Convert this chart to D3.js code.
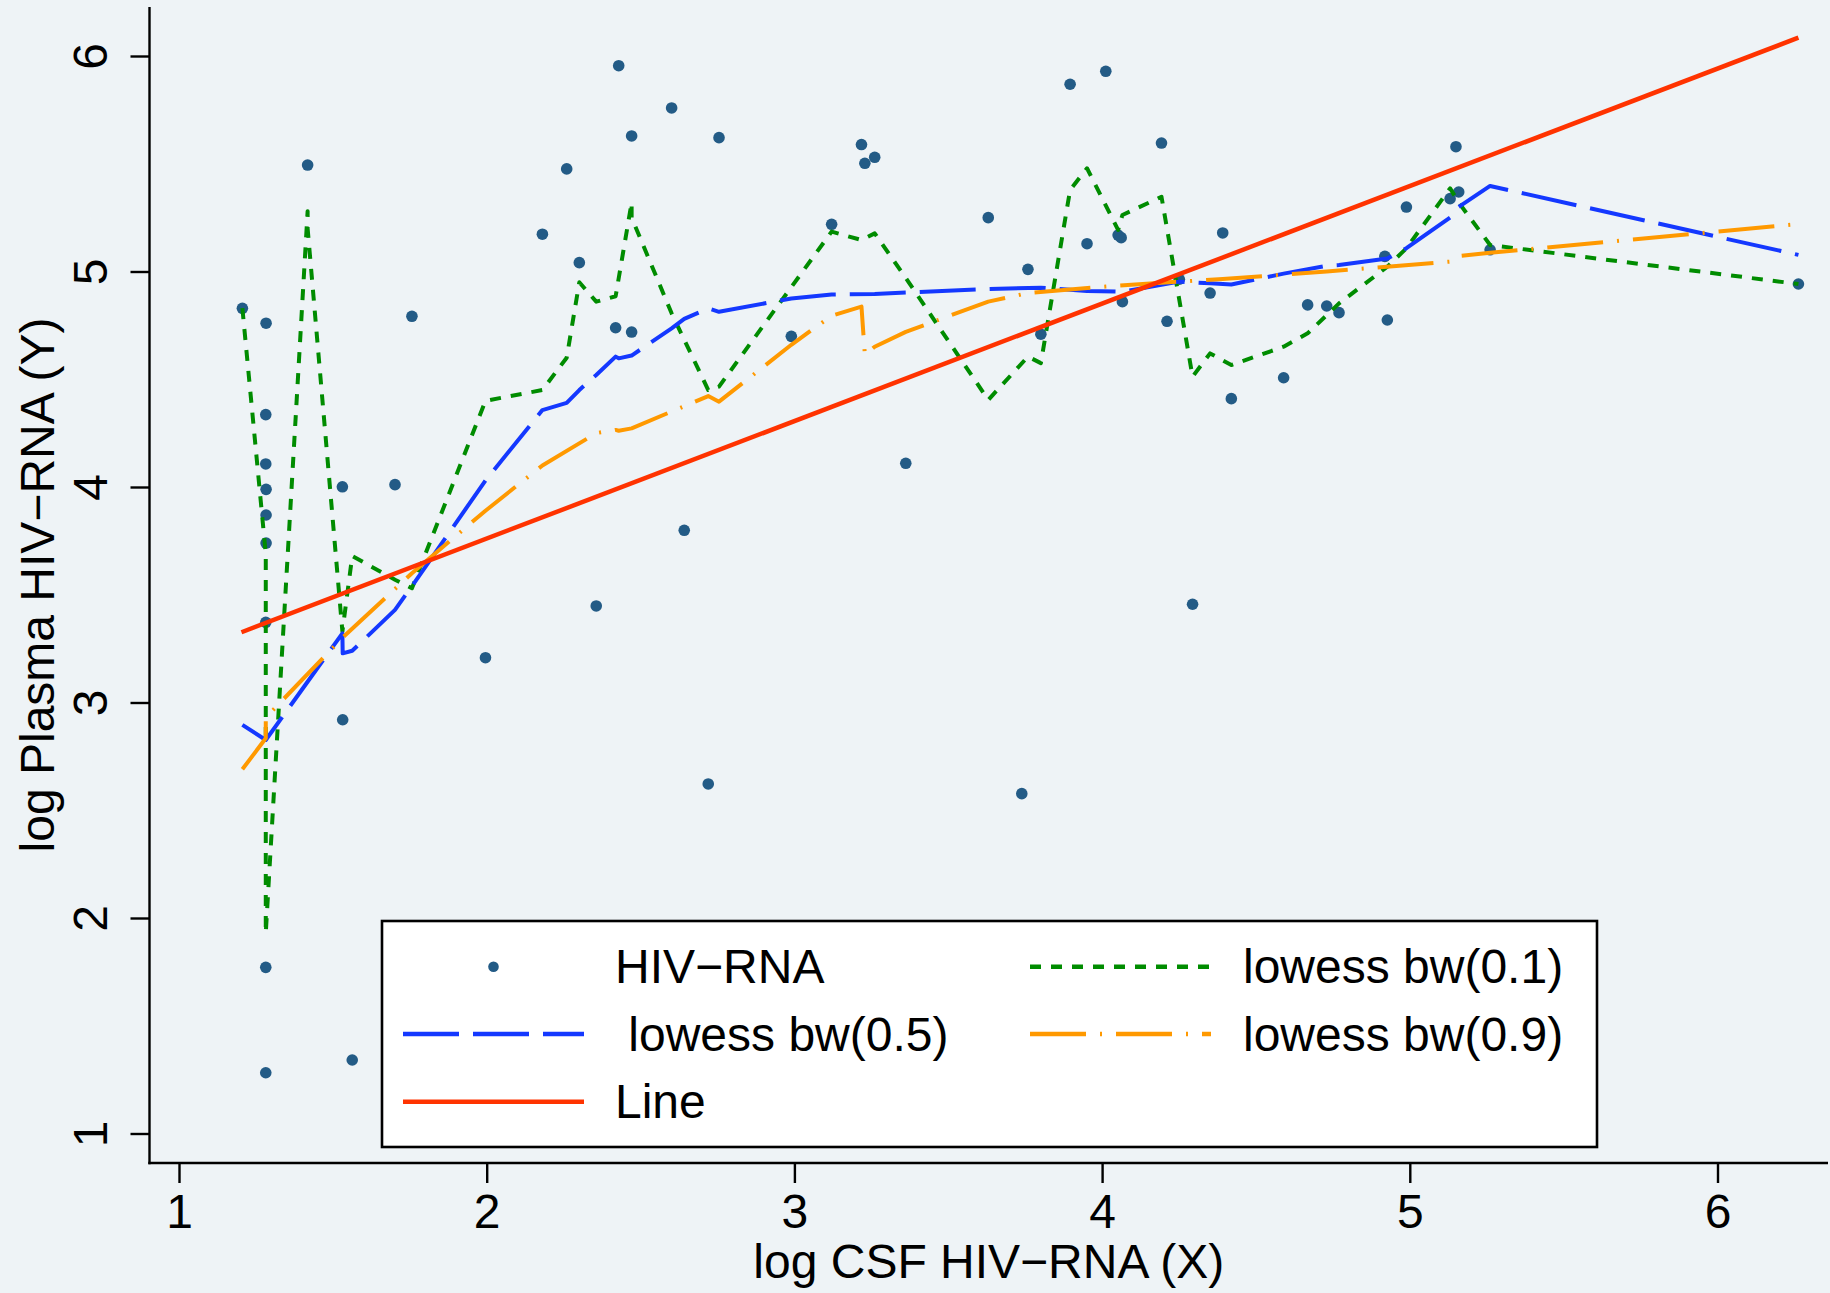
<!DOCTYPE html>
<html><head><meta charset="utf-8">
<script src="https://cdn.jsdelivr.net/npm/d3@7"></script>
<style>
html,body{margin:0;padding:0;background:#eef3f6;}
text{font-family:"Liberation Sans", Arial, Helvetica, sans-serif;}
</style>
</head><body>
<svg id="chart" width="1830" height="1293"></svg>
<script>
// ---- data ----
const csfX = [1.206,1.283,1.282,1.282,1.283,1.283,1.283,1.282,1.282,1.282,
  1.418,1.531,1.532,1.563,1.702,1.757,1.996,2.181,2.260,2.301,
  2.356,2.419,2.429,2.471,2.471,2.601,2.642,2.720,2.755,2.990,
  3.121,3.218,3.229,3.261,3.362,3.630,3.739,3.759,3.801,3.896,
  3.951,4.012,4.052,4.062,4.066,4.193,4.211,4.251,4.294,4.351,
  4.392,4.420,4.590,4.668,4.730,4.770,4.919,4.927,4.989,5.131,
  5.150,5.159,5.261,6.263];
const plasmaY = [4.829,4.760,4.336,4.107,3.989,3.870,3.740,3.372,1.771,1.282,
  5.494,4.001,2.920,1.341,4.011,4.792,3.208,5.173,5.476,5.041,
  3.448,4.739,5.955,5.629,4.719,5.759,3.799,2.622,5.621,4.699,
  5.219,5.589,5.502,5.530,4.110,5.250,2.577,5.010,4.709,5.869,
  5.129,5.929,5.169,5.157,4.860,5.596,4.769,4.964,3.456,4.900,
  5.179,4.410,4.507,4.845,4.840,4.809,5.070,4.775,5.299,5.338,
  5.579,5.369,5.101,4.942];

const lowess01X = [1.206,1.282,1.282,1.418,1.418,1.531,1.563,1.702,1.757,1.996,
  2.181,2.260,2.301,2.356,2.419,2.471,2.471,2.601,2.720,2.755,
  3.121,3.218,3.261,3.362,3.630,3.759,3.801,3.896,3.951,4.052,
  4.066,4.193,4.294,4.351,4.420,4.590,4.668,4.770,4.927,4.989,
  5.131,5.159,5.261,6.263];
const lowess01Y = [4.83,3.69,1.93,5.28,5.20,3.33,3.68,3.57,3.53,4.40,
  4.45,4.60,4.95,4.86,4.885,5.32,5.25,4.806,4.45,4.466,
  5.185,5.146,5.177,4.97,4.404,4.605,4.575,5.378,5.479,5.193,
  5.262,5.347,4.512,4.62,4.566,4.651,4.713,4.852,5.022,5.108,
  5.386,5.32,5.123,4.942];

const lowess05X = [1.206,1.282,1.531,1.532,1.563,1.702,1.757,1.996,2.181,2.260,
  2.301,2.356,2.419,2.429,2.471,2.601,2.642,2.720,2.755,2.990,
  3.121,3.261,3.630,3.801,3.951,4.066,4.251,4.351,4.420,4.590,
  4.730,4.770,4.927,4.989,5.131,5.159,5.261,6.263];
const lowess05Y = [2.896,2.826,3.321,3.228,3.24,3.43,3.54,4.03,4.357,4.39,
  4.45,4.52,4.605,4.597,4.61,4.736,4.78,4.829,4.813,4.875,
  4.893,4.896,4.919,4.925,4.91,4.906,4.953,4.945,4.94,4.99,
  5.027,5.03,5.06,5.108,5.25,5.30,5.397,5.077];

const lowess09X = [1.206,1.282,1.282,1.531,1.757,1.996,2.181,2.356,2.419,2.429,
  2.471,2.720,2.755,2.990,3.121,3.218,3.229,3.261,3.362,3.630,
  3.759,4.012,4.193,4.392,4.730,5.131,5.159,5.261,6.263];
const lowess09Y = [2.69,2.834,2.93,3.30,3.60,3.89,4.10,4.25,4.265,4.261,
  4.272,4.422,4.396,4.66,4.795,4.837,4.613,4.651,4.72,4.86,
  4.90,4.93,4.948,4.965,5.0,5.046,5.072,5.087,5.22];

const lineX = [1.203,6.263];
const lineY = [3.326,6.085];

const xTicks = [1,2,3,4,5,6];
const yTicks = [1,2,3,4,5,6];
const xTitle = "log CSF HIV\u2212RNA (X)";
const yTitle = "log Plasma HIV\u2212RNA (Y)";
const legendLabels = ["HIV\u2212RNA","lowess bw(0.1)"," lowess bw(0.5)","lowess bw(0.9)","Line"];

// ---- styles ----
const BG = "#eef3f6";
const cPoint = "#235b86", cGreen = "#008c00", cBlue = "#1438ff", cOrange = "#ff9900", cRed = "#ff3300";
const FS = 48;

const W = 1830, H = 1293;
const plotL = 149.5, plotR = 1828, plotT = 7, plotB = 1163;
const svg = d3.select("#chart");
svg.append("rect").attr("width", W).attr("height", H).attr("fill", BG);

const x = d3.scaleLinear().domain([1, 6]).range([179, 1717.5]);
const y = d3.scaleLinear().domain([1, 6]).range([1133.5, 56]);

// axes
const gx = svg.append("g").attr("transform", `translate(0,${plotB})`)
  .call(d3.axisBottom(x).tickValues(xTicks).tickSize(20).tickFormat(d3.format("d")));
gx.select(".domain").remove();
gx.selectAll(".tick line").attr("stroke", "#000").attr("stroke-width", 2.4);
gx.selectAll(".tick text").attr("y", 65).attr("dy", null)
  .attr("font-size", FS).attr("fill", "#000")
  .style("font-family", '"Liberation Sans", Arial, sans-serif');

const gy = svg.append("g").attr("transform", `translate(${plotL},0)`)
  .call(d3.axisLeft(y).tickValues(yTicks).tickSize(19).tickFormat(d3.format("d")));
gy.select(".domain").remove();
gy.selectAll(".tick line").attr("stroke", "#000").attr("stroke-width", 2.4);
gy.selectAll(".tick text").attr("x", null).attr("dy", null)
  .attr("text-anchor", "middle")
  .attr("transform", "translate(-42.5,0) rotate(-90)")
  .attr("font-size", FS).attr("fill", "#000")
  .style("font-family", '"Liberation Sans", Arial, sans-serif');

svg.append("line").attr("x1", plotL).attr("x2", plotL).attr("y1", plotT).attr("y2", plotB + 1.2)
  .attr("stroke", "#000").attr("stroke-width", 2.4);
svg.append("line").attr("x1", plotL - 1.2).attr("x2", plotR).attr("y1", plotB).attr("y2", plotB)
  .attr("stroke", "#000").attr("stroke-width", 2.4);

// titles
svg.append("text").attr("x", (plotL + plotR) / 2).attr("y", 1278)
  .attr("text-anchor", "middle").attr("font-size", FS).attr("fill", "#000").text(xTitle);
svg.append("text").attr("transform", `translate(53.5,${(plotT + plotB) / 2}) rotate(-90)`)
  .attr("text-anchor", "middle").attr("font-size", FS).attr("fill", "#000").text(yTitle);

// marks
svg.append("g").selectAll("circle").data(csfX.map((v, i) => [v, plasmaY[i]])).join("circle")
  .attr("cx", d => x(d[0])).attr("cy", d => y(d[1])).attr("r", 5.8).attr("fill", cPoint);

const line = d3.line().x(d => x(d[0])).y(d => y(d[1]));
function series(xs, ys, color, dash, w) {
  svg.append("path").datum(xs.map((v, i) => [v, ys[i]]))
    .attr("d", line).attr("fill", "none").attr("stroke", color)
    .attr("stroke-width", w).attr("stroke-dasharray", dash)
    .attr("stroke-linejoin", "round");
}
series(lowess01X, lowess01Y, cGreen, "11,10", 4);
series(lowess05X, lowess05Y, cBlue, "56,14", 4);
series(lowess09X, lowess09Y, cOrange, "56,14,2,14", 4);
series(lineX, lineY, cRed, null, 4.5);

// legend
const lg = svg.append("g");
lg.append("rect").attr("x", 382).attr("y", 921).attr("width", 1215).attr("height", 226)
  .attr("fill", "#fff").attr("stroke", "#000").attr("stroke-width", 2.6);
const items = [
  {type: "pt", color: cPoint},
  {type: "ln", color: cGreen, dash: "11,10"},
  {type: "ln", color: cBlue, dash: "56,14"},
  {type: "ln", color: cOrange, dash: "56,14,2,14"},
  {type: "ln", color: cRed, dash: null}
];
const colSym = [403, 1030], colTxt = [615, 1243], symW = 181;
const rowY = [966.7, 1034, 1101.7];
items.forEach((it, i) => {
  const c = i % 2, r = Math.floor(i / 2);
  const sx = colSym[c], sy = rowY[r];
  if (it.type === "pt") {
    lg.append("circle").attr("cx", sx + symW / 2).attr("cy", sy).attr("r", 5.3).attr("fill", it.color);
  } else {
    lg.append("line").attr("x1", sx).attr("x2", sx + symW).attr("y1", sy).attr("y2", sy)
      .attr("stroke", it.color).attr("stroke-width", 4.4).attr("stroke-dasharray", it.dash);
  }
  lg.append("text").attr("x", colTxt[c]).attr("y", sy + 16.5).attr("font-size", FS)
    .attr("fill", "#000").attr("xml:space", "preserve").style("white-space", "pre")
    .text(legendLabels[i]);
});
</script>
</body></html>
